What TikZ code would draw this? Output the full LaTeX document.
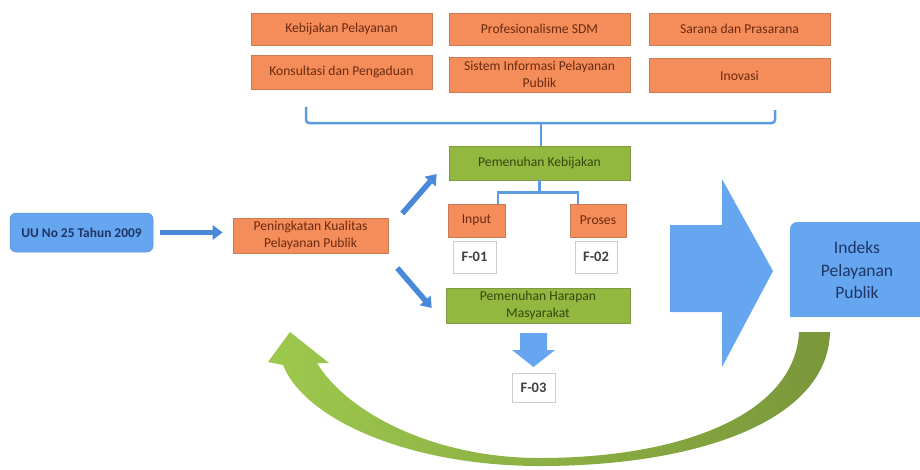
\documentclass[tikz,border=0pt]{standalone}
\usepackage{fontspec}
\setmainfont{Carlito}
\usetikzlibrary{arrows.meta,calc}
\definecolor{orng}{HTML}{F58D5B}
\definecolor{orngB}{HTML}{C87A55}
\definecolor{otext}{HTML}{6A2A10}
\definecolor{grn}{HTML}{93B83F}
\definecolor{grnB}{HTML}{7F9A45}
\definecolor{gtext}{HTML}{34490F}
\definecolor{bigblue}{HTML}{66A6F0}
\definecolor{arrblue}{HTML}{4A88DA}
\definecolor{lineblue}{HTML}{5B9BE0}
\definecolor{navy}{HTML}{1F3464}
\definecolor{grnL}{HTML}{9DC84D}
\definecolor{grnD}{HTML}{7A973A}
\tikzset{
  obox/.style={fill=orng, draw=orngB, line width=0.6pt, inner sep=1pt, align=center, text=otext, font=\fontsize{13.6}{17}\selectfont},
  gbox/.style={fill=grn, draw=grnB, line width=0.6pt, inner sep=1pt, align=center, text=gtext, font=\fontsize{13.6}{17}\selectfont},
  fbox/.style={fill=white, draw=gray!40, line width=0.6pt, inner sep=1pt, text=black!75, font=\bfseries\fontsize{14.5}{16}\selectfont},
  barrow/.style={draw=arrblue, line width=5.5pt, -{Triangle[length=10pt,width=14pt]}},
  tline/.style={draw=lineblue, line width=2.5pt}
}
\begin{document}
\begin{tikzpicture}[x=1pt,y=-1pt]
\useasboundingbox (0,0) rectangle (920,469);
% green return arrow
\path[left color=grnL, right color=grnD]
  (830,332) .. controls (828,420) and (700,466) .. (540,466)
  .. controls (410,466) and (305,420) .. (283,365)
  -- (268,362) -- (290,332) -- (329,363) -- (317,363)
  .. controls (345,410) and (430,458) .. (540,458)
  .. controls (680,458) and (795,415) .. (799,332) -- cycle;
% top boxes
\node[obox, minimum width=181pt, minimum height=32pt] (b1) at (341.5,29) {Kebijakan Pelayanan};
\node[obox, minimum width=181pt, minimum height=32pt] (b2) at (539.5,29) {Profesionalisme SDM};
\node[obox, minimum width=181pt, minimum height=32pt] (b3) at (739.5,29) {Sarana dan Prasarana};
\node[obox, minimum width=181pt, minimum height=34pt] (b4) at (341.5,72) {Konsultasi dan Pengaduan};
\node[obox, minimum width=181pt, minimum height=35pt] (b5) at (539.5,74.5) {Sistem Informasi Pelayanan\\Publik};
\node[obox, minimum width=181pt, minimum height=34pt] (b6) at (739.5,75.5) {Inovasi};
% left chain
\node[fill=bigblue, draw=bigblue!85!black, line width=0.5pt, rounded corners=6pt, minimum width=143pt, minimum height=39pt, text=navy, font=\bfseries\fontsize{13.4}{16}\selectfont] (uu) at (81.5,232.5) {UU No 25 Tahun 2009};
\node[obox, minimum width=155pt, minimum height=35pt] (pen) at (310.5,235.5) {Peningkatan Kualitas\\Pelayanan Publik};
% middle column
\node[gbox, minimum width=181pt, minimum height=34pt] (pk) at (539.5,163) {Pemenuhan Kebijakan};
\node[obox, minimum width=57pt, minimum height=33pt] (inp) at (476.5,220.5) {Input};
\node[obox, minimum width=56pt, minimum height=33pt] (pro) at (598,220.5) {Proses};
\node[fbox, minimum width=43pt, minimum height=32pt] (f1) at (474.5,257) {F-01};
\node[fbox, minimum width=42pt, minimum height=32pt] (f2) at (596,257) {F-02};
\node[gbox, minimum width=184pt, minimum height=35pt] (ph) at (538,305.5) {Pemenuhan Harapan\\Masyarakat};
\node[fbox, minimum width=43pt, minimum height=29pt] (f3) at (533.5,387.5) {F-03};
% brace
\coordinate (brL) at (306,107);
\coordinate (brR) at (775,110);
\coordinate (brM) at (541,123);
\draw[tline, rounded corners=3pt] (brL) -- (306,123) -- (775,123) -- (brR);
\draw[tline] (brM) -- (brM |- pk.north);
% tree
\draw[tline] (pk.south) -- ++(0,12) coordinate (tj);
\draw[tline] (tj) -| ([xshift=21.5pt]inp.north);
\draw[tline] (tj) -| ([xshift=-20pt]pro.north);
% thin arrows
\draw[barrow] ([xshift=7pt]uu.east) -- ([xshift=-10pt]uu.east -| pen.west);
\draw[barrow] ([shift={(14,-22)}]pen.east) -- ([shift={(-12,11)}]pk.west);
\draw[barrow] ([shift={(9,32.5)}]pen.east) -- ([shift={(-14,2.5)}]ph.west);
% block arrow down
\fill[bigblue] (520,333) -- (547,333) -- (547,350) -- (555,350) -- (533.5,367) -- (512,350) -- (520,350) -- cycle;
% big right arrow
\fill[bigblue] (670,225) -- (722,225) -- (722,179) -- (773,271) -- (722,367) -- (722,312) -- (670,312) -- cycle;
% Indeks box
\fill[bigblue] (920,222) -- (797,222) arc[start angle=270,end angle=180,radius=7] -- (790,317) -- (920,317) -- cycle;
\node[text=navy, align=center, font=\fontsize{17.5}{22.5}\selectfont] (ipp) at (857,270) {Indeks\\Pelayanan\\Publik};
\end{tikzpicture}
\end{document}
